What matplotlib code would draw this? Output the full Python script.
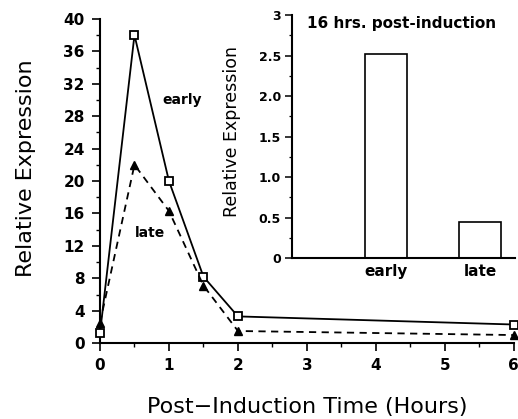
import matplotlib
matplotlib.use("Agg")
import matplotlib.pyplot as plt
from matplotlib.ticker import MultipleLocator

plt.rcParams["font.family"] = ["DejaVu Sans"]

hours = [0, 0.5, 1, 1.5, 2, 6]
early = [1.2, 38, 20, 8.2, 3.3, 2.3]
late = [2.5, 22, 16.3, 7.1, 1.5, 1.0]

inset_labels = ["early", "late"]
inset_values = [2.52, 0.45]

fig = plt.figure(figsize=(5.18, 4.19), dpi=100)
ax = fig.add_axes([0.193, 0.181, 0.799, 0.774])

ax.plot(hours, early, "-", color="black", lw=1.3, marker="s", ms=6.3,
        mfc="white", mec="black", mew=1.3, clip_on=False, zorder=3)
ax.plot(hours, late, "--", color="black", lw=1.3, marker="^", ms=6,
        mfc="black", mec="black", clip_on=False, zorder=3, dashes=(4, 3))

ax.text(1.19, 30, "early", fontsize=10, fontweight="bold", ha="center", va="center")
ax.text(0.72, 13.6, "late", fontsize=10, fontweight="bold", ha="center", va="center")

ax.set_xlim(0, 6)
ax.set_ylim(0, 40)
ax.set_xticks(range(0, 7))
ax.set_yticks(range(0, 41, 4))
ax.xaxis.set_minor_locator(MultipleLocator(0.5))
ax.yaxis.set_minor_locator(MultipleLocator(2))
ax.tick_params(which="major", length=6, width=1.2, labelsize=11, pad=5)
ax.tick_params(which="minor", length=3, width=1)
for lab in ax.get_xticklabels() + ax.get_yticklabels():
    lab.set_fontweight("bold")
for s in ["top", "right"]:
    ax.spines[s].set_visible(False)
for s in ["left", "bottom"]:
    ax.spines[s].set_linewidth(1.5)
ax.set_xlabel("Post\u2212Induction Time (Hours)", fontsize=16)
ax.set_ylabel("Relative Expression", fontsize=16)
ax.xaxis.set_label_coords(0.5, -0.167)
ax.yaxis.set_label_coords(-0.155, 0.54)

# inset bar chart
ins = fig.add_axes([0.564, 0.384, 0.43, 0.58])
ins.patch.set_alpha(0)
ins.bar([1, 2], inset_values, width=0.44, color="white", edgecolor="black", lw=1.2)
ins.set_xlim(0, 2.37)
ins.set_ylim(0, 3)
ins.set_xticks([1, 2])
ins.set_xticklabels(inset_labels, fontsize=11, fontweight="bold")
ins.set_yticks([0, 0.5, 1, 1.5, 2, 2.5, 3])
ins.set_yticklabels(["0", "0.5", "1.0", "1.5", "2.0", "2.5", "3"], fontsize=9, fontweight="bold")
ins.yaxis.set_minor_locator(MultipleLocator(0.25))
ins.tick_params(axis="x", length=0, pad=4)
ins.tick_params(axis="y", which="major", length=5, width=1.1, pad=3)
ins.tick_params(axis="y", which="minor", length=2.5, width=0.9)
for s in ["top", "right"]:
    ins.spines[s].set_visible(False)
for s in ["left", "bottom"]:
    ins.spines[s].set_linewidth(1.5)
ins.set_ylabel("Relative Expression", fontsize=12.5)
ins.yaxis.set_label_coords(-0.229, 0.52)
ins.text(0.16, 2.9, "16 hrs. post-induction", fontsize=11, fontweight="bold",
         ha="left", va="center")

fig.savefig("out.png", dpi=100)
